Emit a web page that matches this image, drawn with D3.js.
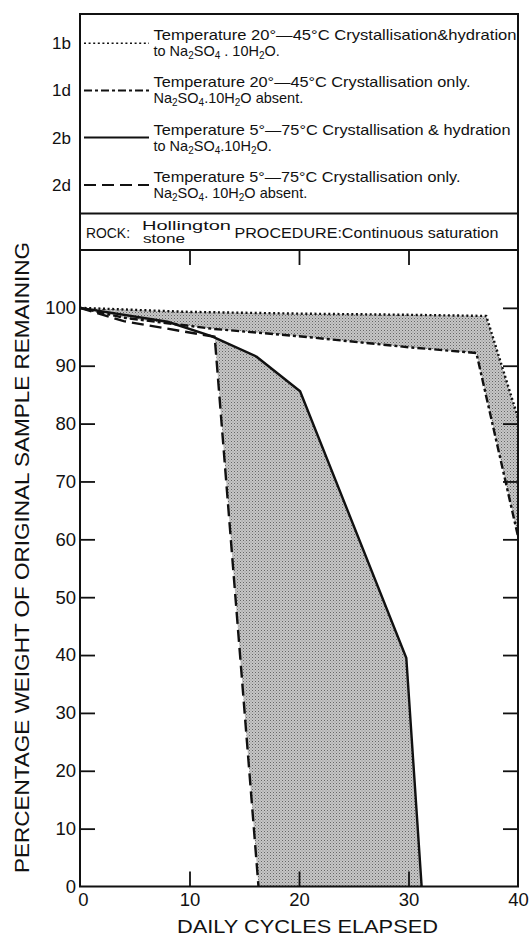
<!DOCTYPE html>
<html><head><meta charset="utf-8">
<script src="https://cdn.jsdelivr.net/npm/d3@7"></script>
<style>
html,body{margin:0;padding:0;background:#fff;}
svg{display:block;}
text{font-family:"Liberation Sans",Arial,Helvetica,sans-serif;fill:#111;}
</style></head>
<body>
<script>
// ---- data ----
const xTicks = [0, 10, 20, 30, 40];
const yTicks = [0, 10, 20, 30, 40, 50, 60, 70, 80, 90, 100];
const s1b = [[0,100],[10,99.3],[20,99],[30,98.8],[37.1,98.6],[40,81]];
const s1d = [[0,100],[4,98.3],[12,96.4],[20,95.1],[30,93.2],[36.2,92.2],[40,60.5]];
const s2b = [[0,100],[8,97.6],[12,95.1],[16.1,91.6],[20.1,85.6],[29.8,39.5],[31.2,0]];
const s2d = [[0,100],[4,97.7],[12.3,95],[16.3,0]];
const legendKeys = ["1b","1d","2b","2d"];
const legendLine1 = [
  "Temperature 20°—45°C Crystallisation&hydration",
  "Temperature 20°—45°C Crystallisation only.",
  "Temperature 5°—75°C Crystallisation & hydration",
  "Temperature 5°—75°C Crystallisation only."
];
const legendLine2 = [
  [["to Na"],["2",1],["SO"],["4",1],[" . 10H"],["2",1],["O."]],
  [["Na"],["2",1],["SO"],["4",1],[".10H"],["2",1],["O absent."]],
  [["to Na"],["2",1],["SO"],["4",1],[".10H"],["2",1],["O."]],
  [["Na"],["2",1],["SO"],["4",1],[". 10H"],["2",1],["O absent."]]
];
const legendDash = ["2,2.6", "8,3,3,3", null, "12,6"];
const series = [s1b, s1d, s2b, s2d];

const W = 529, H = 936;
const svg = d3.select("body").append("svg").attr("width", W).attr("height", H);

const L = 80, R = 518, T = 14, Y0 = 886.5, plotTop = 250, sep = 213.5;
const x = d3.scaleLinear().domain([0, 40]).range([L, R]);
const y = d3.scaleLinear().domain([0, 110]).range([Y0, plotTop]);

// stipple pattern
const defs = svg.append("defs");
const pat = defs.append("pattern").attr("id","stip").attr("patternUnits","userSpaceOnUse")
  .attr("width",3).attr("height",3);
pat.append("rect").attr("width",3).attr("height",3).attr("fill","#c6c6c6");
pat.append("rect").attr("x",0).attr("y",0).attr("width",1).attr("height",1).attr("fill","#666");
pat.append("rect").attr("x",1.5).attr("y",1.5).attr("width",1).attr("height",1).attr("fill","#8c8c8c");

const area = d3.line().x(d => x(d[0])).y(d => y(d[1]));
// shaded regions
svg.append("path").attr("d", area(s1b.concat(s1d.slice().reverse())) + "Z")
  .attr("fill","url(#stip)");
svg.append("path").attr("d", area(s2b.slice(2).concat(s2d.slice(2).reverse())) + "Z")
  .attr("fill","url(#stip)");

// lines
const line = d3.line().x(d => x(d[0])).y(d => y(d[1]));
series.forEach((s, i) => {
  svg.append("path").attr("d", line(s)).attr("fill","none")
    .attr("stroke","#111").attr("stroke-width", 2.4)
    .attr("stroke-linejoin","round")
    .attr("stroke-dasharray", legendDash[i]);
});

// axes
const yAxisL = d3.axisLeft(y).tickValues(yTicks).tickSize(-15).tickPadding(4).tickFormat(d3.format("d"));
const gL = svg.append("g").attr("transform",`translate(${L},0)`).call(yAxisL);
const yAxisR = d3.axisRight(y).tickValues(yTicks).tickSize(-15).tickFormat("");
const gR = svg.append("g").attr("transform",`translate(${R},0)`).call(yAxisR);
const xAxisB = d3.axisBottom(x).tickValues(xTicks).tickSize(-15).tickPadding(6).tickFormat(d3.format("d"));
const gB = svg.append("g").attr("transform",`translate(0,${Y0})`).call(xAxisB);
const xAxisT = d3.axisTop(x).tickValues([10,20,30]).tickSize(-15).tickFormat("");
const gT = svg.append("g").attr("transform",`translate(0,${plotTop})`).call(xAxisT);
[gL,gR,gB,gT].forEach(g => {
  g.select(".domain").remove();
  g.selectAll(".tick line").attr("stroke","#111").attr("stroke-width",1.8);
  g.selectAll("text").attr("font-size",18.5).attr("fill","#111")
    .style("font-family",'"Liberation Sans",Arial,sans-serif');
});
gB.selectAll(".tick").filter(d => d === 0 || d === 40).select("line").remove();
gL.selectAll(".tick").filter(d => d === 0 || d === 100).select("line").remove();
gR.selectAll(".tick").filter(d => d === 0).select("line").remove();
gB.selectAll(".tick").filter(d => d === 0).select("text").attr("dx", 3);

// frame
const fr = svg.append("g").attr("stroke","#111").attr("stroke-width",2).attr("fill","none");
fr.append("rect").attr("x",L).attr("y",T).attr("width",R-L).attr("height",Y0-T);
fr.append("line").attr("x1",L).attr("x2",R).attr("y1",sep).attr("y2",sep);
fr.append("line").attr("x1",L).attr("x2",R).attr("y1",plotTop).attr("y2",plotTop);

// legend
const legY = [43.2, 90.4, 137.6, 184.9];
legendKeys.forEach((k, i) => {
  const ly = legY[i];
  svg.append("text").attr("x",71).attr("y",ly+6).attr("text-anchor","end")
    .attr("font-size",17).text(k);
  svg.append("line").attr("x1",84).attr("x2",149).attr("y1",ly).attr("y2",ly)
    .attr("stroke","#111").attr("stroke-width", i === 0 ? 1.6 : 2)
    .attr("stroke-dasharray", legendDash[i]);
  const w1 = [363, 317, 357, 307][i];
  svg.append("text").attr("x",153.5).attr("y",ly-3).attr("font-size",14.5)
    .attr("textLength", w1).attr("lengthAdjust","spacingAndGlyphs").text(legendLine1[i]);
  const t2 = svg.append("text").attr("x",153.5).attr("y",ly+13).attr("font-size",14.5);
  legendLine2[i].forEach((seg, j) => {
    if (seg[1]) {
      t2.append("tspan").attr("font-size",10).attr("dy",3).text(seg[0]);
    } else {
      const ts = t2.append("tspan").text(seg[0]);
      if (j > 0) ts.attr("dy",-3);
    }
  });
});

// rock / procedure row
svg.append("text").attr("x",86).attr("y",237.5).attr("font-size",14.5)
  .attr("textLength",44).attr("lengthAdjust","spacingAndGlyphs").text("ROCK:");
svg.append("text").attr("x",142).attr("y",229.5).attr("font-size",12.5)
  .attr("textLength",89).attr("lengthAdjust","spacingAndGlyphs").text("Hollington");
svg.append("text").attr("x",143).attr("y",242.5).attr("font-size",12.5)
  .attr("textLength",42).attr("lengthAdjust","spacingAndGlyphs").text("stone");
svg.append("text").attr("x",234.5).attr("y",237.5).attr("font-size",14.5)
  .attr("textLength",264).attr("lengthAdjust","spacingAndGlyphs").text("PROCEDURE:Continuous saturation");

// axis titles
svg.append("text").attr("transform",`translate(29,557.5) rotate(-90)`)
  .attr("text-anchor","middle").attr("font-size",21)
  .attr("textLength",631).attr("lengthAdjust","spacingAndGlyphs")
  .text("PERCENTAGE WEIGHT OF ORIGINAL SAMPLE REMAINING");
svg.append("text").attr("x",307.5).attr("y",933).attr("text-anchor","middle")
  .attr("font-size",18.5).attr("textLength",261).attr("lengthAdjust","spacingAndGlyphs")
  .text("DAILY CYCLES ELAPSED");
</script>
</body></html>
